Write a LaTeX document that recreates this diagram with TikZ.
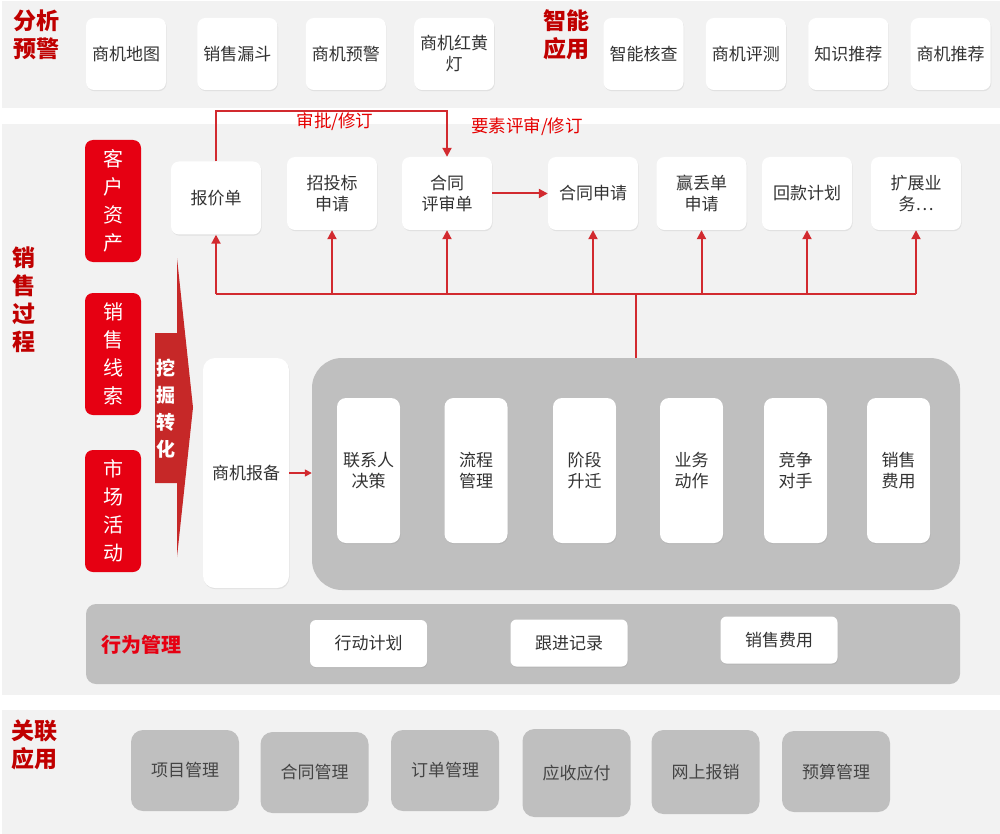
\documentclass[tikz,border=0pt]{standalone}
\usepackage{fontspec}
\setmainfont{Noto Sans CJK SC}
\usetikzlibrary{arrows.meta, positioning, shadows}
\definecolor{band}{HTML}{F2F2F2}
\definecolor{slab}{HTML}{BFBFBF}
\definecolor{deepred}{HTML}{C00000}
\definecolor{brightred}{HTML}{E60012}
\definecolor{minered}{HTML}{C62828}
\definecolor{linkred}{HTML}{D22A2F}
\definecolor{ink}{HTML}{333333}
\definecolor{inkgray}{HTML}{444444}
\newcommand{\fsz}[2]{\fontsize{#1}{#2}\selectfont}

\begin{document}
\begin{tikzpicture}[x=1pt, y=-1pt, font=\fsz{17}{21}, node distance=28pt]
  \tikzset{
    tile/.style={fill=white, text=ink, rounded corners=8pt, minimum width=80pt, minimum height=72pt, inner sep=2pt, align=center, drop shadow={opacity=0.15, shadow xshift=0.6pt, shadow yshift=-1.2pt}},
    step box/.style={tile, minimum width=90pt, minimum height=73pt},
    pillar/.style={tile, minimum width=63pt, minimum height=145pt, rounded corners=9pt},
    chip/.style={tile, minimum width=117pt, minimum height=47pt, rounded corners=6pt},
    source/.style={fill=brightred, text=white, rounded corners=8pt, minimum width=56pt, minimum height=122pt, inner sep=0pt, align=center, font=\fsz{20}{28}},
    linked/.style={fill=slab, text=inkgray, rounded corners=12pt, minimum width=108pt, minimum height=81pt, inner sep=0pt, align=center},
    seclabel/.style={text=deepred, font=\fsz{23}{28}\bfseries, align=center, inner sep=0pt},
    flow/.style={draw=linkred, line width=2pt},
    arr/.style={flow, -{Triangle[length=9pt, width=9pt]}},
    note/.style={text=red!90!black, font=\fsz{17.5}{20}, inner sep=0pt}
  }
  \useasboundingbox (0,0) rectangle (1000,834);
  \fill[band] (2,1) rectangle (1000,108);
  \fill[band] (2,124) rectangle (1000,695);
  \fill[band] (2,710) rectangle (1000,834);

  \node[seclabel] (analysis) at (36,35) {分析\\预警};
  \node[tile] (map) at (126,54) {商机地图};
  \node[tile, right=31pt of map] (funnel) {销售漏斗};
  \node[tile, right=28pt of funnel] (alert) {商机预警};
  \node[tile, right=28pt of alert] (signal) {商机红黄\\灯};
  \node[seclabel] (smart) at (566,35) {智能\\应用};
  \node[tile] (check) at (643.5,54) {智能核查};
  \node[tile, right=22pt of check] (rating) {商机评测};
  \node[tile, right=22pt of rating] (knowledge) {知识推荐};
  \node[tile, right=22pt of knowledge] (recommend) {商机推荐};

  \node[seclabel] (process) at (24,300) {销\\售\\过\\程};
  \node[source] (assets) at (113,201) {客\\户\\资\\产};
  \node[source] (leads) at (113,354) {销\\售\\线\\索};
  \node[source] (events) at (113,511) {市\\场\\活\\动};
  \fill[minered] (155,333) -- (177,333) -- (177,258) -- (193,407.5) -- (177,557) -- (177,483) -- (155,483) -- cycle;
  \node[text=white, font=\fsz{19}{27}\bfseries, align=center, inner sep=0pt] (mine) at (166,409) {挖\\掘\\转\\化};

  \node[step box] (quote) at (216,198) {报价单};
  \node[step box] (bid) at (332,193.5) {招投标\\申请};
  \node[step box] (review) at (447,193.5) {合同\\评审单};
  \node[step box] (apply) at (593,193.5) {合同申请};
  \node[step box] (winloss) at (701.5,193.5) {赢丢单\\申请};
  \node[step box] (payback) at (807,193.5) {回款计划};
  \node[step box] (more) at (916,193.5) {扩展业\\务…};

  \node[tile, minimum width=86pt, minimum height=230pt, rounded corners=12pt] (report) at (246,473) {商机报备};
  \node[fill=slab, rounded corners=30pt, minimum width=648pt, minimum height=232pt] (stages) at (636,474) {};
  \node[pillar] (contact) at (368.5,470.5) {联系人\\决策};
  \node[pillar] (procflow) at (476,470.5) {流程\\管理};
  \node[pillar] (phase) at (584.5,470.5) {阶段\\升迁};
  \node[pillar] (action) at (691.5,470.5) {业务\\动作};
  \node[pillar] (rival) at (795.5,470.5) {竞争\\对手};
  \node[pillar] (expense) at (898.5,470.5) {销售\\费用};

  \coordinate (approve) at (216,111);
  \coordinate (busL) at (216,294);
  \coordinate (busR) at (916,294);
  \draw[arr] (quote.north) -- (approve) -| (review.north);
  \node[note] (approvelbl) at (335,122) {审批/修订};
  \draw[arr] (review.east) -- (apply.west);
  \node[note] (factorlbl) at (527,127) {要素评审/修订};
  \draw[flow] (busL) -- (busR);
  \draw[flow] (stages.north) -- (stages.north |- busL);
  \draw[arr] (busL) -- (quote.south);
  \draw[arr] (bid.south |- busL) -- (bid.south);
  \draw[arr] (review.south |- busL) -- (review.south);
  \draw[arr] (apply.south |- busL) -- (apply.south);
  \draw[arr] (winloss.south |- busL) -- (winloss.south);
  \draw[arr] (payback.south |- busL) -- (payback.south);
  \draw[arr] (busR) -- (more.south);
  \draw[flow, line width=1.5pt, -{Triangle[length=7pt, width=7pt]}] (report.east |- 0,473) -- (stages.west |- 0,473);

  \node[fill=slab, rounded corners=10pt, minimum width=874pt, minimum height=80pt] (behavior) at (523,644) {};
  \node[text=brightred, font=\fsz{20}{24}\bfseries, inner sep=0pt] (behaviorlbl) at (141,645) {行为管理};
  \node[chip] (plan) at (368.5,643.5) {行动计划};
  \node[chip] (follow) at (569,643) {跟进记录};
  \node[chip] (fee) at (779,640) {销售费用};

  \node[seclabel] (related) at (34,745) {关联\\应用};
  \node[linked] (project) at (185,770.5) {项目管理};
  \node[linked] (contract) at (314.5,772.5) {合同管理};
  \node[linked] (order) at (445,770.5) {订单管理};
  \node[linked, minimum height=88pt] (receive) at (576.5,773) {应收应付};
  \node[linked, minimum height=84pt] (reimburse) at (705.5,772) {网上报销};
  \node[linked] (budget) at (836,771.5) {预算管理};
\end{tikzpicture}
\end{document}
